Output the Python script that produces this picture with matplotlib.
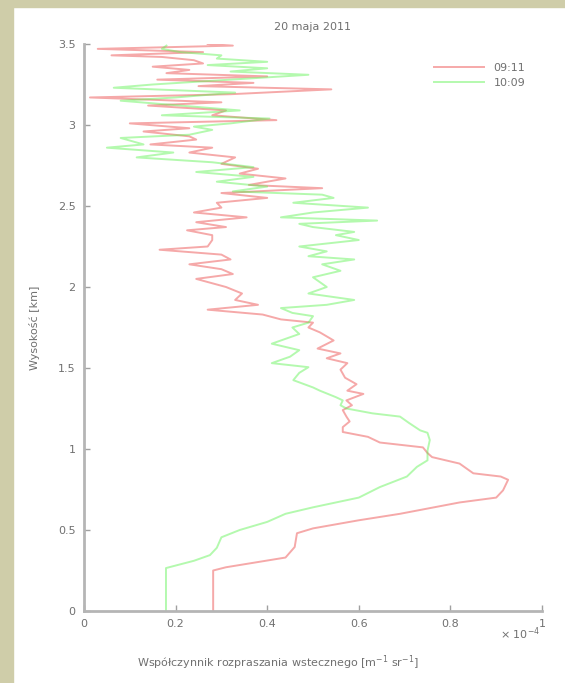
import numpy as np
import matplotlib
matplotlib.use("Agg")
import matplotlib.pyplot as plt
from matplotlib.patches import Rectangle

#%% data (x in units of 1e-4, height in km)
h_0911 = [0.0, 0.25, 0.27, 0.33, 0.395, 0.48, 0.51, 0.56, 0.60, 0.67, 0.70, 0.745, 0.81, 0.83,
          0.85, 0.91, 0.95, 0.975, 1.01, 1.04, 1.075, 1.105, 1.135, 1.17, 1.2, 1.24, 1.27, 1.30,
          1.34, 1.36, 1.40, 1.44, 1.49, 1.53, 1.56, 1.59, 1.62, 1.67, 1.72, 1.75, 1.78, 1.80,
          1.83, 1.86, 1.89, 1.92, 1.96, 2.0, 2.05, 2.08, 2.11, 2.14, 2.17, 2.20, 2.23, 2.25,
          2.29, 2.32, 2.35, 2.37, 2.40, 2.43, 2.46, 2.49, 2.52, 2.55, 2.58, 2.61, 2.63, 2.67,
          2.70, 2.73, 2.76, 2.80, 2.83, 2.86, 2.88, 2.91, 2.93, 2.96, 2.98, 3.01, 3.03, 3.06,
          3.09, 3.12, 3.14, 3.17, 3.19, 3.22, 3.24, 3.26, 3.28, 3.30, 3.32, 3.34, 3.36, 3.38,
          3.40, 3.42, 3.43, 3.45, 3.47, 3.49, 3.50]
x_0911 = [0.282, 0.282, 0.31, 0.44, 0.46, 0.465, 0.50, 0.60, 0.69, 0.82, 0.90, 0.915, 0.926, 0.91,
          0.85, 0.82, 0.76, 0.75, 0.74, 0.646, 0.62, 0.565, 0.565, 0.58, 0.573, 0.565, 0.585, 0.573,
          0.61, 0.575, 0.595, 0.57, 0.56, 0.575, 0.53, 0.56, 0.51, 0.545, 0.515, 0.49, 0.50, 0.43,
          0.39, 0.27, 0.38, 0.33, 0.345, 0.31, 0.245, 0.325, 0.30, 0.23, 0.32, 0.30, 0.165, 0.27,
          0.28, 0.28, 0.225, 0.31, 0.245, 0.355, 0.24, 0.30, 0.29, 0.40, 0.30, 0.52, 0.36, 0.44,
          0.34, 0.38, 0.30, 0.33, 0.23, 0.28, 0.145, 0.245, 0.23, 0.13, 0.23, 0.10, 0.42, 0.28,
          0.31, 0.14, 0.30, 0.013, 0.32, 0.54, 0.25, 0.37, 0.16, 0.40, 0.18, 0.23, 0.15, 0.26,
          0.24, 0.17, 0.06, 0.26, 0.03, 0.325, 0.27]

h_1009 = [0.0, 0.265, 0.31, 0.345, 0.39, 0.455, 0.50, 0.55, 0.60, 0.64, 0.70, 0.765, 0.83, 0.89,
          0.93, 0.99, 1.055, 1.10, 1.115, 1.16, 1.20, 1.22, 1.25, 1.27, 1.30, 1.32, 1.36, 1.38,
          1.425, 1.47, 1.505, 1.53, 1.57, 1.61, 1.65, 1.67, 1.71, 1.75, 1.78, 1.82, 1.84, 1.87,
          1.89, 1.92, 1.96, 2.00, 2.06, 2.10, 2.14, 2.17, 2.19, 2.22, 2.25, 2.29, 2.32, 2.34,
          2.37, 2.39, 2.41, 2.43, 2.46, 2.49, 2.52, 2.55, 2.57, 2.59, 2.62, 2.65, 2.68, 2.71,
          2.74, 2.77, 2.80, 2.83, 2.86, 2.88, 2.92, 2.94, 2.97, 2.99, 3.01, 3.04, 3.06, 3.09,
          3.12, 3.15, 3.17, 3.20, 3.23, 3.25, 3.28, 3.31, 3.33, 3.35, 3.37, 3.39, 3.41, 3.43,
          3.45, 3.47, 3.49]
x_1009 = [0.179, 0.179, 0.24, 0.275, 0.29, 0.30, 0.34, 0.40, 0.44, 0.50, 0.60, 0.646, 0.705, 0.727,
          0.75, 0.75, 0.755, 0.75, 0.734, 0.71, 0.69, 0.63, 0.573, 0.56, 0.565, 0.55, 0.515, 0.50,
          0.457, 0.47, 0.49, 0.41, 0.45, 0.47, 0.41, 0.43, 0.47, 0.455, 0.49, 0.50, 0.455, 0.43,
          0.53, 0.59, 0.49, 0.53, 0.50, 0.56, 0.52, 0.59, 0.49, 0.53, 0.47, 0.60, 0.55, 0.59,
          0.50, 0.47, 0.64, 0.43, 0.50, 0.62, 0.457, 0.545, 0.52, 0.325, 0.40, 0.29, 0.37, 0.245,
          0.37, 0.28, 0.115, 0.195, 0.05, 0.13, 0.08, 0.23, 0.28, 0.24, 0.32, 0.405, 0.17, 0.34,
          0.21, 0.08, 0.20, 0.33, 0.065, 0.15, 0.32, 0.49, 0.32, 0.40, 0.27, 0.40, 0.29, 0.30,
          0.21, 0.17, 0.18]

xticks = [0, 0.2, 0.4, 0.6, 0.8, 1]
yticks = [0, 0.5, 1, 1.5, 2, 2.5, 3, 3.5]
ytick_labels = ["0", "0.5", "1", "1.5", "2", "2.5", "3", "3.5"]

#%%
W, H = 565, 683
fig = plt.figure(figsize=(W/100, H/100), dpi=100)
fig.set_facecolor("white")
# beige frame strips
fig.patches.append(Rectangle((0, 0), 13/W, 1, transform=fig.transFigure, color="#cfcda9", zorder=0))
fig.patches.append(Rectangle((0, 1-7/H), 1, 7/H, transform=fig.transFigure, color="#cfcda9", zorder=0))

ax = fig.add_axes([84/W, (H-611)/H, (542-84)/W, (611-44)/H])
txt = "#707070"
ax.plot(x_0911, h_0911, color=(0.92, 0.25, 0.25), alpha=0.45, lw=1.4, label="09:11")
ax.plot(x_1009, h_1009, color=(0.35, 0.95, 0.3), alpha=0.45, lw=1.4, label="10:09")

ax.set_xlim(0, 1)
ax.set_ylim(0, 3.5)
ax.set_xticks(xticks)
ax.set_xticklabels([f"{t:g}" for t in xticks])
ax.set_yticks(yticks)
ax.set_yticklabels(ytick_labels)
for s in ["top", "right"]:
    ax.spines[s].set_visible(False)
for s in ["left", "bottom"]:
    ax.spines[s].set_color("#b5b5b5")
    ax.spines[s].set_linewidth(2)
ax.tick_params(direction="in", length=4, width=1, color="#a0a0a0", labelcolor=txt, labelsize=8, pad=6)

ax.set_title("20 maja 2011", fontsize=8, color=txt, pad=10)
ax.set_ylabel("Wysokość [km]", fontsize=8, color=txt, labelpad=13)
fig.text(278/W, 1-663/H, "Współczynnik rozpraszania wstecznego [m$^{-1}$ sr$^{-1}$]",
         ha="center", va="center", fontsize=8, color=txt)
fig.text(540/W, 1-634/H, "× 10$^{-4}$", ha="right", va="center", fontsize=8, color=txt)

leg = ax.legend(loc="upper right", frameon=False, fontsize=8, labelcolor=txt,
                handlelength=4.5, bbox_to_anchor=(0.985, 0.985))

fig.savefig("out.png", dpi=100)
